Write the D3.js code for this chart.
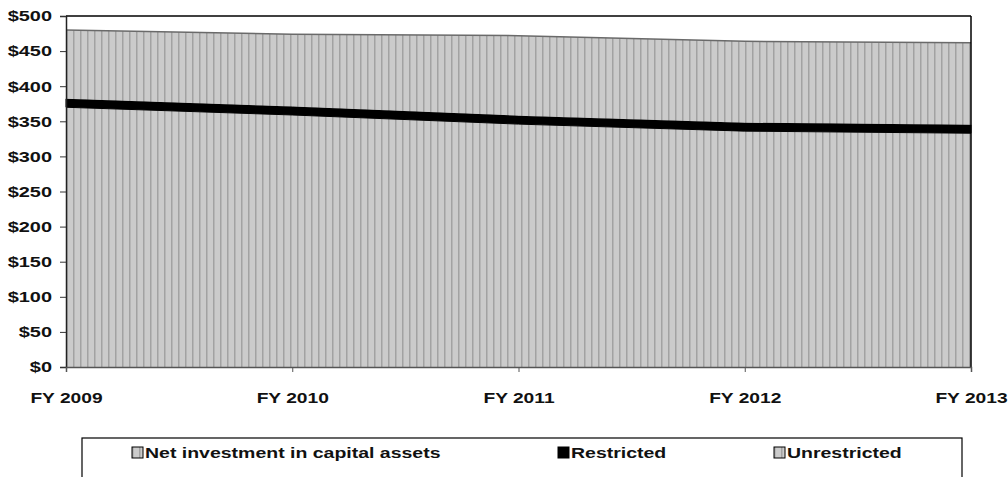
<!DOCTYPE html>
<html>
<head>
<meta charset="utf-8">
<script src="https://cdn.jsdelivr.net/npm/d3@7"></script>
<style>
  body { margin: 0; background: #fff; }
  svg text { font-family: "Liberation Sans", Arial, sans-serif; font-weight: bold; fill: #111; }
</style>
</head>
<body>
<div id="chart"></div>
<script>
// chart data (millions of dollars)
var years = ["FY 2009", "FY 2010", "FY 2011", "FY 2012", "FY 2013"];
var netInvestment = [370, 359, 346, 336, 333];
var restricted = [12, 12, 12, 12, 12];
var unrestricted = [98, 103, 114, 116, 117];
var yTicks = [0, 50, 100, 150, 200, 250, 300, 350, 400, 450, 500];
var seriesNames = ["Net investment in capital assets", "Restricted", "Unrestricted"];

var svgWidth = 1008;
var svgHeight = 477;

var margin = { top: 16, right: 37, bottom: 110, left: 66 };
var chartWidth = svgWidth - margin.left - margin.right;
var chartHeight = svgHeight - margin.top - margin.bottom;

var svg = d3.select("#chart").append("svg")
  .attr("width", svgWidth)
  .attr("height", svgHeight);

// the scanned original uses wide glyphs, so stretch text sideways
function stretch(sel, k) {
  sel.each(function() {
    var t = d3.select(this);
    var x = +t.attr("x") || 0;
    var y = +t.attr("y") || 0;
    t.attr("x", 0).attr("y", 0)
      .attr("transform", `translate(${x},${y}) scale(${k},1)`);
  });
}

// vertical stripe fill
var defs = svg.append("defs");
var pat = defs.append("pattern")
  .attr("id", "stripes")
  .attr("patternUnits", "userSpaceOnUse")
  .attr("width", 7)
  .attr("height", 7);
pat.append("rect").attr("width", 7).attr("height", 7).attr("fill", "#cbcbcb");
pat.append("rect").attr("x", 0).attr("width", 1.5).attr("height", 7).attr("fill", "#a2a2a2");

var chartGroup = svg.append("g")
  .attr("transform", `translate(${margin.left}, ${margin.top})`);

// rows for the stack
var rows = years.map(function(y, i) {
  return { year: y, net: netInvestment[i], restricted: restricted[i], unrestricted: unrestricted[i] };
});
var keys = ["net", "restricted", "unrestricted"];
var stacked = d3.stack().keys(keys)(rows);

var xScale = d3.scalePoint()
  .domain(years)
  .range([0, chartWidth]);

var yScale = d3.scaleLinear()
  .domain([0, 500])
  .range([chartHeight, 0]);

var area = d3.area()
  .x(d => xScale(d.data.year))
  .y0(d => yScale(d[0]))
  .y1(d => yScale(d[1]));

var fills = { net: "url(#stripes)", restricted: "#000", unrestricted: "url(#stripes)" };

chartGroup.selectAll("path.layer")
  .data(stacked)
  .enter()
  .append("path")
  .attr("class", "layer")
  .attr("d", area)
  .attr("fill", d => fills[d.key])
  .attr("stroke", d => d.key === "restricted" ? "#000" : "none")
  .attr("stroke-width", 1);

// top edge of unrestricted
var topLine = d3.line()
  .x(d => xScale(d.data.year))
  .y(d => yScale(d[1]));
chartGroup.append("path")
  .attr("d", topLine(stacked[2]))
  .attr("fill", "none")
  .attr("stroke", "#6a6a6a")
  .attr("stroke-width", 1.5);

// frame top and right
chartGroup.append("line")
  .attr("x1", 0).attr("x2", chartWidth)
  .attr("y1", 0).attr("y2", 0)
  .attr("stroke", "#000").attr("stroke-width", 1.5);
chartGroup.append("line")
  .attr("x1", chartWidth).attr("x2", chartWidth)
  .attr("y1", 0).attr("y2", chartHeight)
  .attr("stroke", "#000").attr("stroke-width", 1.5);

// axes
var leftAxis = d3.axisLeft(yScale)
  .tickValues(yTicks)
  .tickFormat(d => "$" + d)
  .tickSize(6)
  .tickPadding(8);

var bottomAxis = d3.axisBottom(xScale)
  .tickSize(5)
  .tickPadding(20);

var gy = chartGroup.append("g").call(leftAxis);
gy.select(".domain").attr("stroke", "#222").attr("stroke-width", 1.5);
gy.selectAll(".tick line").attr("stroke", "#333");
gy.selectAll("text")
  .attr("font-size", "15px")
  .attr("fill", "#111")
  .call(stretch, 1.33);

var gx = chartGroup.append("g")
  .attr("transform", `translate(0, ${chartHeight})`)
  .call(bottomAxis);
gx.select(".domain").attr("stroke", "#555").attr("stroke-width", 1.5);
gx.selectAll(".tick line").attr("stroke", "#555");
gx.selectAll("text")
  .attr("font-size", "15px")
  .attr("fill", "#111")
  .call(stretch, 1.28);

// legend
var legend = svg.append("g");
legend.append("rect")
  .attr("x", 82).attr("y", 438)
  .attr("width", 880).attr("height", 60)
  .attr("fill", "#fff")
  .attr("stroke", "#000")
  .attr("stroke-width", 1.2);

var legendX = [132, 558, 774];
var legendFill = ["url(#stripes)", "#000", "url(#stripes)"];
var items = legend.selectAll("g.item")
  .data(seriesNames)
  .enter()
  .append("g")
  .attr("class", "item")
  .attr("transform", (d, i) => `translate(${legendX[i]}, 447)`);

items.append("rect")
  .attr("width", 11)
  .attr("height", 11)
  .attr("fill", (d, i) => legendFill[i])
  .attr("stroke", "#000")
  .attr("stroke-width", 1);

items.append("text")
  .attr("x", 13)
  .attr("y", 6)
  .attr("dy", "0.35em")
  .attr("font-size", "15px")
  .text(d => d)
  .call(stretch, 1.3);
</script>
</body>
</html>
